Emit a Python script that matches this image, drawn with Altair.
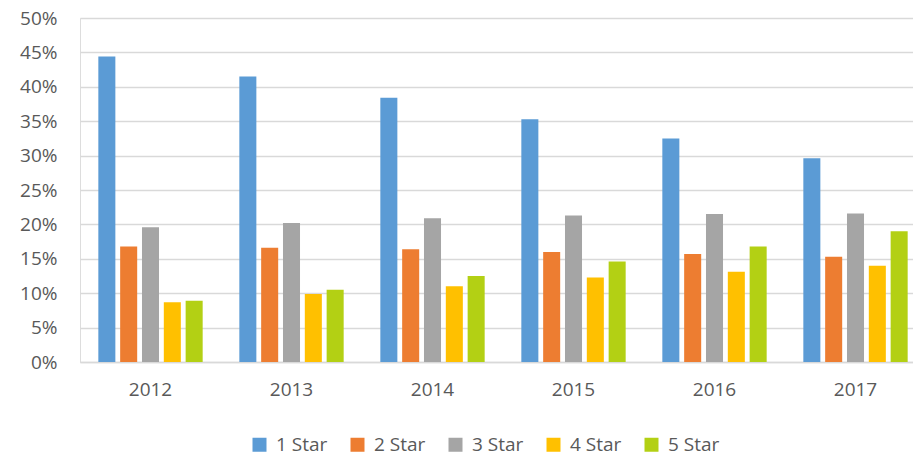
import altair as alt
import pandas as pd

years = ["2012", "2013", "2014", "2015", "2016", "2017"]
stars = ["1 Star", "2 Star", "3 Star", "4 Star", "5 Star"]
colors = ["#5B9BD5", "#ED7D31", "#A5A5A5", "#FFC000", "#B3D014"]

one_star = [0.444, 0.415, 0.384, 0.353, 0.325, 0.296]
two_star = [0.168, 0.166, 0.164, 0.160, 0.157, 0.153]
three_star = [0.196, 0.202, 0.209, 0.213, 0.215, 0.216]
four_star = [0.087, 0.099, 0.110, 0.123, 0.131, 0.140]
five_star = [0.089, 0.105, 0.125, 0.146, 0.168, 0.190]

series = [one_star, two_star, three_star, four_star, five_star]
rows = []
for s, vals in zip(stars, series):
    for y, v in zip(years, vals):
        rows.append({"Year": y, "Rating": s, "Share": v})
df = pd.DataFrame(rows)

FONT = "Open Sans"
GREY = "#595959"

chart = alt.Chart(df).mark_bar().encode(
    x=alt.X("Year:N", sort=years, title=None,
            scale=alt.Scale(range=[0, 846], paddingInner=0.26, paddingOuter=0.13),
            axis=alt.Axis(labelAngle=0, ticks=False, domain=True, domainColor="#D9D9D9",
                          domainWidth=1.5, labelPadding=18, labelFontSize=19,
                          labelColor=GREY, labelFont=FONT, grid=False)),
    xOffset=alt.XOffset("Rating:N", sort=stars, scale=alt.Scale(paddingInner=0.22, paddingOuter=0)),
    y=alt.Y("Share:Q", title=None,
            scale=alt.Scale(domain=[0, 0.5], nice=False),
            axis=alt.Axis(format=".0%", values=[i / 100 for i in range(0, 51, 5)],
                          ticks=False, domain=False, labelPadding=23, labelFontSize=19,
                          labelColor=GREY, labelFont=FONT, gridColor="#D9D9D9",
                          gridWidth=1.3)),
    color=alt.Color("Rating:N", sort=stars,
                    scale=alt.Scale(domain=stars, range=colors),
                    legend=alt.Legend(orient="none", direction="horizontal", title=None,
                                      legendX=170, legendY=417, symbolType="square",
                                      symbolSize=196, symbolStrokeWidth=0, labelFontSize=19,
                                      labelFont=FONT, labelColor=GREY, labelOffset=7,
                                      columnPadding=20)),
).properties(
    width=833, height=344,
    autosize=alt.AutoSizeParams(type="none"),
    padding={"left": 72, "top": 10, "right": 0, "bottom": 94},
).configure_view(stroke=None).configure(background="white")

chart.save("out.html", embed_options={"renderer": "svg", "actions": False})
